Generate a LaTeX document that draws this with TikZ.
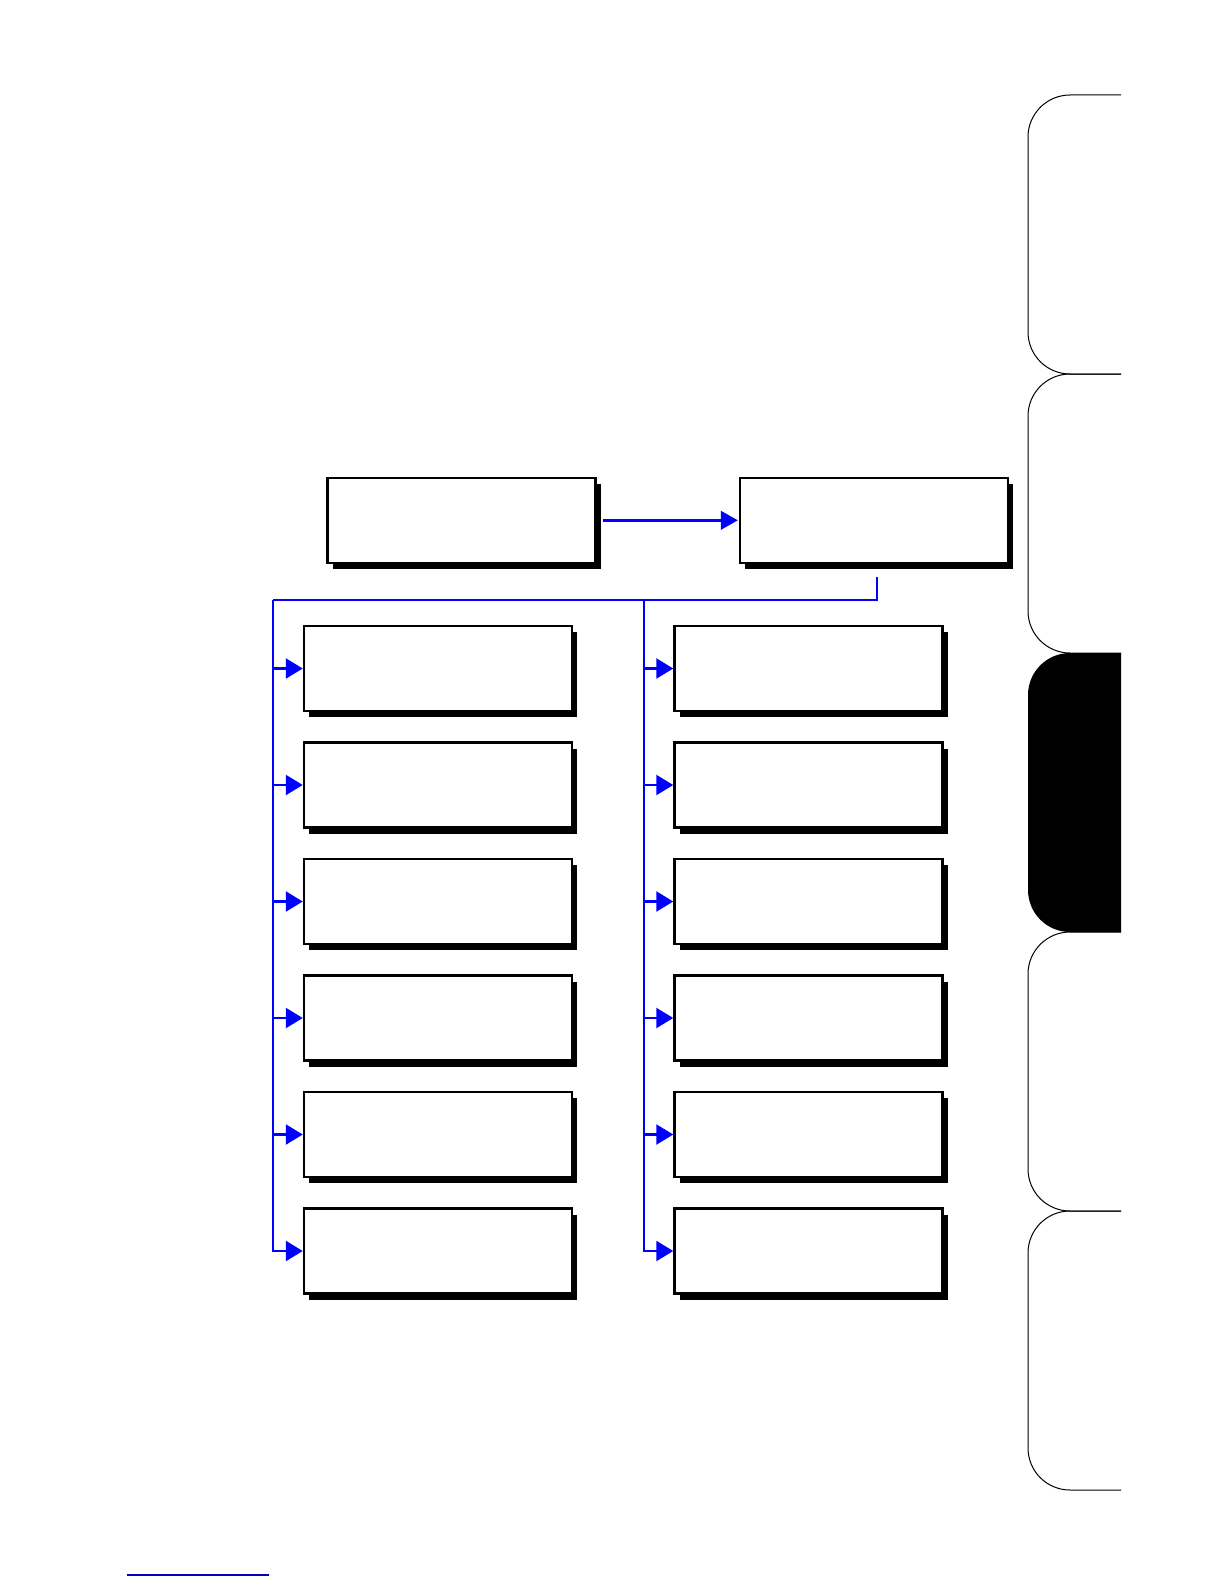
\documentclass[tikz,border=0pt]{standalone}
\usepackage{amsmath}
\usepackage{tikz}
\usetikzlibrary{positioning, arrows.meta, shadows}

\begin{document}
\begin{tikzpicture}[x=1pt, y=-1pt, node distance=29pt,
        box/.style={rectangle, draw, line width=2.5pt, fill=white, minimum width=268pt, minimum height=85pt,
            drop shadow={fill=black, opacity=1, shadow xshift=5pt, shadow yshift=-6pt}},
        bus/.style={draw=blue, line width=2.4pt, -{Triangle[width=20pt, length=17pt]}},
        flow/.style={draw=blue, line width=3.6pt, shorten <=6pt, shorten >=1pt, -{Triangle[width=18pt, length=17pt]}},
        tab/.style={draw, line width=1pt, rounded corners=42pt}]

        \node[box] (src) at (461.7,520.3) {};
        \node[box] (dst) [right=142pt of src] {};

        \node[box] (l1) at (438,668.5) {};
        \node[box] (r1) [right=100pt of l1] {};
        \foreach \i [count=\j from 2] in {1,...,5} {
            \node[box] (l\j) [below=of l\i] {};
            \node[box] (r\j) [below=of r\i] {};
        }

        % Edges
        \draw[flow] (src.east) -- (dst.west);
        \coordinate (hub) at ([shift={(2.5pt,-12.8pt)}]dst.south);
        \coordinate (jl) at ([shift={(-29.5pt,24.7pt)}]l1.north west);
        \coordinate (jr) at ([shift={(-29.5pt,24.7pt)}]r1.north west);
        \draw[draw=blue, line width=2.4pt] (hub) |- (jl);
        \foreach \i in {1,...,6} {
            \draw[bus] (jl) |- (l\i.west);
            \draw[bus] (jr) |- (r\i.west);
        }

        % Tabs
        \foreach \t in {95,374,932,1211} {
            \draw[tab] (1121,\t) -- (1028,\t) -- (1028,\t+279) -- (1121,\t+279);
        }
        \begin{scope}
            \clip (0,0) rectangle (1121,1584);
            \fill[rounded corners=42pt] (1028,653) rectangle (1200,932);
        \end{scope}

        \draw[blue!75!black, line width=1.3pt] (127,1575) -- (269,1575);

        \pgfresetboundingbox
        \useasboundingbox (0,0) rectangle (1224,1584);
    \end{tikzpicture}
\end{document}
